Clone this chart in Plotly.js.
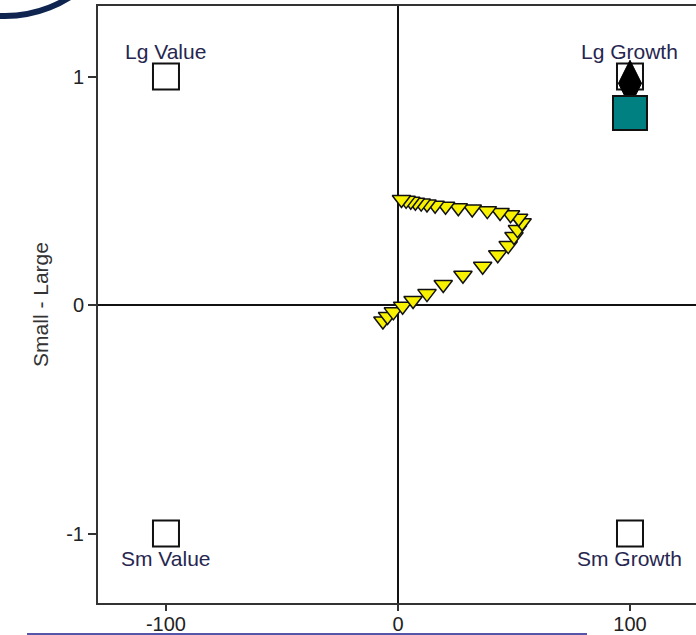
<!DOCTYPE html>
<html>
<head>
<meta charset="utf-8">
<script src="https://cdn.plot.ly/plotly-3.0.1.min.js"></script>
<style>html,body{margin:0;padding:0;background:#fff;}#chart{width:696px;height:635px;}</style>
</head>
<body>
<div id="chart"></div>
<script>
// Style-box corner benchmarks
var cornerNames = ["Lg Value", "Lg Growth", "Sm Value", "Sm Growth"];
var cornerX = [-100, 100, -100, 100];
var cornerY = [1, 1, -1, -1];
var cornerShift = [25, 25, -25, -25];

// Rolling style path (yellow triangles)
var pathX = [-6.5, -4.5, -2, 2, 6.5, 12.5, 19.5, 28, 36.5, 43, 47.5, 50, 51.5, 53.5, 52, 48.5, 44, 38.5, 32, 26, 20.5, 16, 12.5, 10, 7.5, 5.5, 3.5, 1.5];
var pathY = [-0.07, -0.05, -0.03, -0.005, 0.02, 0.05, 0.09, 0.13, 0.17, 0.22, 0.26, 0.30, 0.33, 0.36, 0.38, 0.395, 0.405, 0.413, 0.42, 0.426, 0.432, 0.437, 0.442, 0.446, 0.45, 0.454, 0.458, 0.462];

// Benchmark (black diamond) and fund (teal square)
var benchX = [100], benchY = [0.97];
var fundX = [100], fundY = [0.84];

var xTicks = [-100, 0, 100];
var xTickText = ["-100", "0", "100"];
var yTicks = [-1, 0, 1];
var yTickText = ["-1", "0", "1"];

var textColor = "#262650";
var font = "Liberation Sans, Arial, sans-serif";

var traces = [
  {x: cornerX, y: cornerY, type: "scatter", mode: "markers", hoverinfo: "skip",
   marker: {symbol: "square", size: 26, color: "#ffffff", line: {color: "#111", width: 2}}},
  {x: pathX, y: pathY, type: "scatter", mode: "markers",
   marker: {symbol: "triangle-down", size: 16, color: "#f8f200", line: {color: "#111", width: 1.5}}},
  {x: benchX, y: benchY, type: "scatter", mode: "markers",
   marker: {symbol: "diamond-tall", size: 33, color: "#000", line: {color: "#000", width: 1}}},
  {x: fundX, y: fundY, type: "scatter", mode: "markers",
   marker: {symbol: "square", size: 34, color: "#008080", line: {color: "#111", width: 2}}}
];

var annotations = cornerNames.map(function (n, i) {
  return {x: cornerX[i], y: cornerY[i], xref: "x", yref: "y", text: n, showarrow: false,
          yshift: cornerShift[i], font: {family: font, size: 21, color: textColor}};
});

var layout = {
  width: 696, height: 635,
  margin: {l: 98, r: 0, t: 6, b: 32, pad: 0},
  paper_bgcolor: "#fff", plot_bgcolor: "#fff",
  showlegend: false,
  font: {family: font, size: 20, color: "#222"},
  xaxis: {range: [-129.3, 128.45], tickvals: xTicks, ticktext: xTickText, ticks: "outside", ticklen: 6, tickwidth: 2, tickcolor: "#333",
          ticklabelstandoff: -4,
          showgrid: false, zeroline: true, zerolinecolor: "#111", zerolinewidth: 1.5,
          showline: true, linecolor: "#333", linewidth: 2, mirror: true,
          tickfont: {family: font, size: 20, color: "#222"}},
  yaxis: {range: [-1.304, 1.3085], tickvals: yTicks, ticktext: yTickText, ticks: "outside", ticklen: 8, tickwidth: 2, tickcolor: "#333",
          showgrid: false, zeroline: true, zerolinecolor: "#111", zerolinewidth: 1.5,
          showline: true, linecolor: "#333", linewidth: 2, mirror: false,
          tickfont: {family: font, size: 20, color: "#222"},
          title: {text: "Small - Large", standoff: 12, font: {family: font, size: 21, color: "#333"}}},
  annotations: annotations,
  shapes: [
    {type: "circle", xref: "paper", yref: "paper", xsizemode: "pixel", ysizemode: "pixel",
     xanchor: 0, yanchor: 1, x0: -214, x1: 28, y0: -10, y1: 232,
     line: {color: "#0f2550", width: 6}, fillcolor: "rgba(0,0,0,0)"},
    {type: "line", xref: "paper", yref: "paper", x0: -0.1187, x1: 0.8177, y0: -0.0519, y1: -0.0519,
     line: {color: "#5555aa", width: 2}}
  ]
};

Plotly.newPlot("chart", traces, layout, {displayModeBar: false, staticPlot: true});
</script>
</body>
</html>
